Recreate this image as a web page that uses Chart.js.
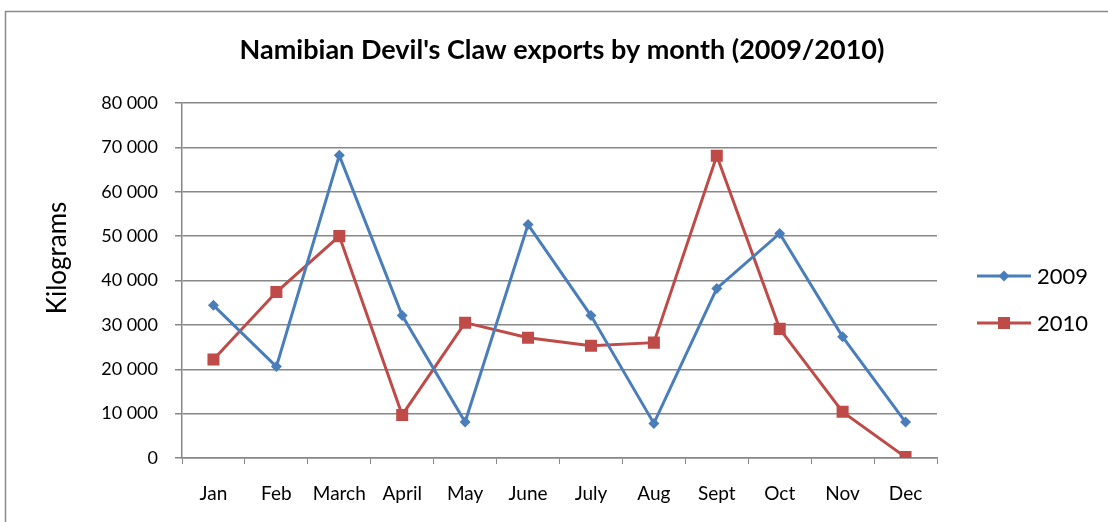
<!DOCTYPE html>
<html>
<head>
<meta charset="utf-8">
<script src="https://cdn.jsdelivr.net/npm/chart.js@4/dist/chart.umd.min.js"></script>
<style>
  html, body { margin: 0; padding: 0; background: #fff; }
  #wrap { position: relative; width: 1108px; height: 522px; }
</style>
</head>
<body>
<div id="wrap"><canvas id="exports" width="1108" height="522"></canvas></div>
<script>
const months = ["Jan","Feb","March","April","May","June","July","Aug","Sept","Oct","Nov","Dec"];
const kg2009 = [34400, 20600, 68200, 32100, 8100, 52600, 32100, 7800, 38200, 50600, 27300, 8100];
const kg2010 = [22200, 37400, 50000, 9700, 30500, 27100, 25300, 26000, 68100, 29100, 10400, 200];
const yTicks = [0, 10000, 20000, 30000, 40000, 50000, 60000, 70000, 80000];

const FONT = "Lato, 'Open Sans', sans-serif";
const BLUE = "#4a7ebb", RED = "#be4b48", GRID = "#878787";

// 80000 -> "80 000"
const spaced = v => String(v).replace(/\B(?=(\d{3})+(?!\d))/g, " ");

/* frame, title, axis title and legend */
const decor = {
  id: "decor",
  beforeDraw(chart){
    const ctx = chart.ctx;
    ctx.save();
    ctx.fillStyle = "#fff";
    ctx.fillRect(0, 0, chart.width, chart.height);
    ctx.strokeStyle = "#8a8a8a";
    ctx.lineWidth = 1.5;
    ctx.strokeRect(5.5, 11.5, 1300, 700);
    ctx.restore();
  },
  afterDraw(chart){
    const ctx = chart.ctx;
    ctx.save();
    ctx.fillStyle = "#000";
    ctx.textAlign = "center";
    ctx.textBaseline = "middle";
    ctx.font = "bold 27px " + FONT;
    ctx.fillText("Namibian Devil's Claw exports by month (2009/2010)", 562, 50);

    ctx.save();
    ctx.translate(58, 258);
    ctx.rotate(-Math.PI / 2);
    ctx.font = "26px " + FONT;
    ctx.fillText("Kilograms", 0, 0);
    ctx.restore();

    // legend: line with marker, then series name
    ctx.textAlign = "left";
    ctx.font = "22px " + FONT;
    chart.data.datasets.forEach((ds, i) => {
      const y = 276 + i * 47;
      ctx.strokeStyle = ds.borderColor;
      ctx.lineWidth = 3;
      ctx.beginPath();
      ctx.moveTo(977, y);
      ctx.lineTo(1031, y);
      ctx.stroke();
      ctx.fillStyle = ds.backgroundColor;
      Chart.helpers.drawPoint(ctx, {
        pointStyle: ds.pointStyle, radius: ds.pointRadius, rotation: 0, borderWidth: 0
      }, 1004, y);
      ctx.fillStyle = "#000";
      ctx.fillText(ds.label, 1037, y + 1);
    });
    ctx.restore();
  }
};

new Chart(document.getElementById("exports"), {
  type: "line",
  data: {
    labels: months,
    datasets: [
      { label: "2009", data: kg2009, borderColor: BLUE, backgroundColor: BLUE,
        borderWidth: 3, pointStyle: "rectRot", pointRadius: 5.5, pointBorderWidth: 0, tension: 0 },
      { label: "2010", data: kg2010, borderColor: RED, backgroundColor: RED,
        borderWidth: 3, pointStyle: "rect", pointRadius: 8.5, pointBorderWidth: 0, tension: 0 }
    ]
  },
  options: {
    responsive: false,
    animation: false,
    events: [],
    layout: { padding: { top: 103, right: 171, bottom: 0, left: 0 } },
    plugins: { legend: { display: false }, title: { display: false }, tooltip: { enabled: false } },
    scales: {
      x: {
        offset: true,
        afterFit: s => { s.height = 64; },
        grid: { offset: true, drawOnChartArea: false, drawTicks: true, tickLength: 6, color: GRID, lineWidth: 1 },
        border: { color: GRID, width: 1.5 },
        ticks: { color: "#000", padding: 18, maxRotation: 0, autoSkip: false, font: { family: FONT, size: 19 } }
      },
      y: {
        min: 0, max: 80000,
        afterFit: s => { s.width = 182; },
        afterBuildTicks: s => { s.ticks = yTicks.map(v => ({ value: v })); },
        grid: { color: GRID, lineWidth: 1.5, tickLength: 7 },
        border: { color: GRID, width: 1.5 },
        ticks: { color: "#000", padding: 17, callback: v => spaced(v), font: { family: FONT, size: 18 } }
      }
    }
  },
  plugins: [decor]
});
</script>
</body>
</html>
